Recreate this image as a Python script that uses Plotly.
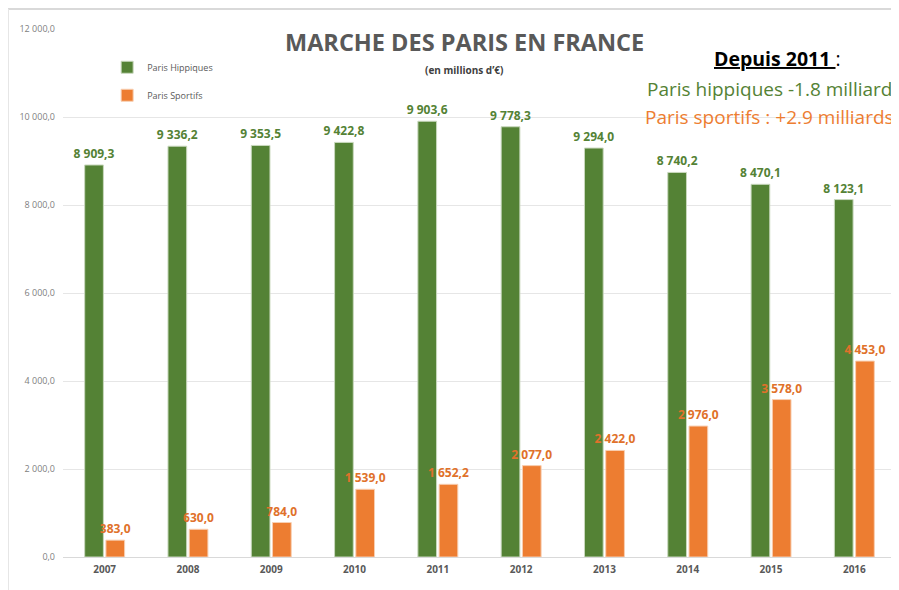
import plotly.graph_objects as go

years = ["2007", "2008", "2009", "2010", "2011", "2012", "2013", "2014", "2015", "2016"]
paris_hippiques = [8909.3, 9336.2, 9353.5, 9422.8, 9903.6, 9778.3, 9294.0, 8740.2, 8470.1, 8123.1]
paris_sportifs = [383.0, 630.0, 784.0, 1539.0, 1652.2, 2077.0, 2422.0, 2976.0, 3578.0, 4453.0]
y_ticks = [0, 2000, 4000, 6000, 8000, 10000, 12000]

GREEN = "#548235"
ORANGE = "#ED7D31"
FONT = "Open Sans"

fig = go.Figure()
fig.add_trace(go.Bar(
    name="Paris Hippiques", x=years, y=paris_hippiques, legendgroup="a",
    marker=dict(color=GREEN, line=dict(color="#C9D8BE", width=1)),
    texttemplate="%{y:,.1f}", textposition="outside", cliponaxis=False,
    textfont=dict(family=FONT, size=12, color=GREEN, weight="bold"),
))
fig.add_trace(go.Bar(
    name="Paris Sportifs", x=years, y=paris_sportifs, legendgroup="b",
    marker=dict(color=ORANGE, line=dict(color="#F8CFB2", width=1)),
    texttemplate="%{y:,.1f}", textposition="outside", cliponaxis=False,
    textfont=dict(family=FONT, size=12, color="#E0712A", weight="bold"),
))

# page is shown with an 8px body margin, so the figure is 16px smaller
fig.update_layout(
    width=891, height=582,
    margin=dict(l=55, r=3, t=21, b=33),
    paper_bgcolor="white", plot_bgcolor="white",
    separators=", ",
    barmode="group", bargap=0.49, bargroupgap=0.12,
    font=dict(family=FONT, color="#595959"),
    showlegend=True,
    legend=dict(x=0.053, y=0.955, xanchor="left", yanchor="top",
                font=dict(size=9, color="#595959"), bgcolor="rgba(0,0,0,0)",
                traceorder="grouped", tracegroupgap=9),
    xaxis=dict(tickfont=dict(size=10, color="#595959", weight="bold"),
               showline=True, linecolor="#D9D9D9", ticks="", showgrid=False,
               ticklabelstandoff=3),
    yaxis=dict(range=[0, 12000], tickvals=y_ticks, tickformat=",.1f",
               tickfont=dict(size=9, color="#808080"),
               showgrid=True, gridcolor="#E6E6E6", zeroline=False, ticks="",
               ticklabelstandoff=7),
    uniformtext=dict(minsize=8, mode="show"),
)

fig.add_annotation(xref="paper", yref="paper", x=(464 - 63) / 833, y=(557 - 42) / 528,
                   xanchor="center", yanchor="middle",
                   text="<b>MARCHE DES PARIS EN FRANCE</b>", showarrow=False,
                   font=dict(family=FONT, size=23.5, color="#595959"))
fig.add_annotation(xref="paper", yref="paper", x=(464 - 63) / 833, y=(557 - 70) / 528,
                   xanchor="center", yanchor="middle",
                   text="<b>(en millions d’€)</b>", showarrow=False,
                   font=dict(family=FONT, size=10, color="#404040"))
fig.add_annotation(xref="paper", yref="paper", x=(777 - 63) / 833, y=(557 - 59) / 528,
                   xanchor="center", yanchor="middle",
                   text="<b><u>Depuis 2011 </u></b>:", showarrow=False,
                   font=dict(family=FONT, size=19.5, color="black"))
fig.add_annotation(xref="paper", yref="paper", x=(894 - 63) / 833, y=(557 - 89) / 528,
                   xanchor="right", yanchor="middle",
                   text="Paris hippiques -1.8 milliard", showarrow=False,
                   font=dict(family=FONT, size=19, color=GREEN))
fig.add_annotation(xref="paper", yref="paper", x=(896 - 63) / 833, y=(557 - 117) / 528,
                   xanchor="right", yanchor="middle",
                   text="Paris sportifs : +2.9 milliards", showarrow=False,
                   font=dict(family=FONT, size=19, color=ORANGE))

# light frame around the chart
fig.add_shape(type="line", xref="paper", yref="paper",
              x0=(8 - 63) / 833, x1=1.01, y0=(557 - 9) / 528, y1=(557 - 9) / 528,
              line=dict(color="#D9D9D9", width=2))
fig.add_shape(type="line", xref="paper", yref="paper",
              x0=(8.5 - 63) / 833, x1=(8.5 - 63) / 833, y0=(557 - 9) / 528, y1=-0.07,
              line=dict(color="#E6E6E6", width=1))

fig.write_html("out.html")
